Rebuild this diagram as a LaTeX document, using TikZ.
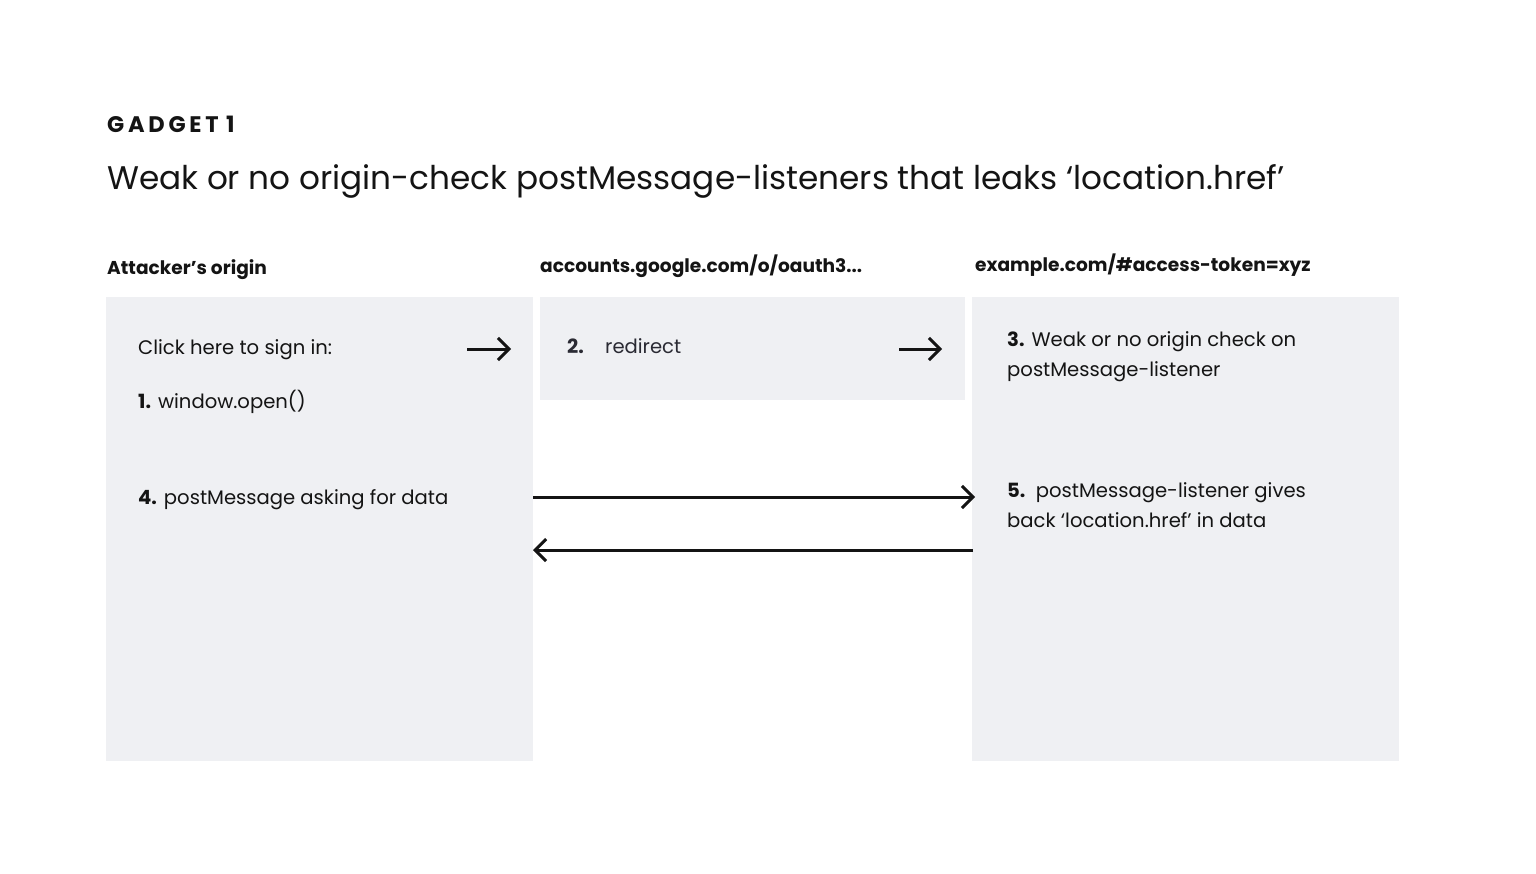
\documentclass[tikz,border=0pt]{standalone}
\usepackage{fontspec}
\setmainfont{Poppins}
\usetikzlibrary{arrows.meta}
\definecolor{boxgrey}{HTML}{EFF0F3}
\definecolor{ink}{HTML}{141414}
\definecolor{softink}{HTML}{2A2A33}
\tikzset{
  panel/.style={fill=boxgrey, draw=none},
  hdr/.style={anchor=base west, inner sep=0pt, font=\fontsize{18.6}{22}\selectfont\bfseries, text=ink},
  body/.style={anchor=base west, inner sep=0pt, font=\fontsize{19.6}{23}\selectfont, text=ink},
  flow/.style={draw=ink, line width=3pt, -{Straight Barb[length=11pt, width=22pt, line width=3pt]}},
  shortflow/.style={draw=ink, line width=3pt, -{Straight Barb[length=11pt, width=22pt, line width=3pt]}}
}
\begin{document}
\begin{tikzpicture}[x=1pt, y=-1pt]
\useasboundingbox (0,0) rectangle (1536,873);
\fill[white] (0,0) rectangle (1536,873);
% panels
\path[panel] (106,297) rectangle (533,761);
\path[panel] (540,297) rectangle (965,400);
\path[panel] (972,297) rectangle (1399,761);
\coordinate (A) at (533,500);
\coordinate (C) at (973,500);
% titles
\node[anchor=base west, inner sep=0pt, font=\fontsize{22.5}{26}\selectfont\bfseries, text=ink] (gadget) at (107,132) {G\,A\,D\,G\,E\,T\,\,1};
\node[anchor=base west, inner sep=0pt, font=\fontsize{32.7}{38}\selectfont, text=ink] (title) at (107,189) {Weak or no origin-check postMessage-listeners that leaks ‘location.href’};
% headers
\node[hdr] (h1) at (107,274) {Attacker’s origin};
\node[hdr] (h2) at (540,272) {accounts.google.com/o/oauth3...};
\node[hdr] (h3) at (975,271) {example.com/\#access-token=xyz};
% panel A text
\node[body] (click) at (138,354) {Click here to sign in:};
\node[body] (s1) at (138,408) {\textbf{1.} window.open()};
\node[body] (s4) at (138,504) {\textbf{4.} postMessage asking for data};
% panel B text
\node[body, text=softink] (s2n) at (567,353) {\textbf{2.}};
\node[body, text=softink] (s2) at (605,353) {redirect};
% panel C text
\node[body] (s3a) at (1007,346) {\textbf{3.} Weak or no origin check on};
\node[body] (s3b) at (1007,376) {postMessage-listener};
\node[body] (s5a) at (1007,497) {\textbf{5.}\ \ postMessage-listener gives};
\node[body] (s5b) at (1007,527) {back ‘location.href’ in data};
% short arrows
\coordinate (a1s) at (467,349); \coordinate (a1e) at (511,349);
\coordinate (a2s) at (899,349); \coordinate (a2e) at (942,349);
\draw[shortflow] (a1s) -- (a1e);
\draw[shortflow] (a2s) -- (a2e);
% long arrows
\draw[flow] (A |- 0,497) -- ([xshift=2pt]C |- 0,497);
\draw[flow] (C |- 0,550) -- (A |- 0,550);
\end{tikzpicture}
\end{document}
